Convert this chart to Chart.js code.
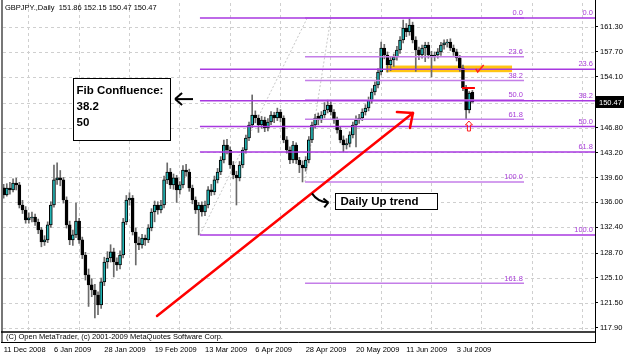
<!DOCTYPE html>
<html><head><meta charset="utf-8">
<script src="https://cdn.jsdelivr.net/npm/chart.js@4.4.0/dist/chart.umd.min.js"></script>
<style>html,body{margin:0;padding:0;background:#fff;}canvas{display:block;}</style>
</head><body>
<canvas id="c" width="625" height="355"></canvas>
<script>
const chartTitle = 'GBPJPY.,Daily  151.86 152.15 150.47 150.47';
const copyrightText = '(C) Open MetaTrader, (c) 2001-2009 MetaQuotes Software Corp.';

const opens = [138.10,137.07,138.08,137.80,138.80,138.52,135.63,134.91,133.47,133.76,133.90,133.18,132.03,130.30,130.59,132.75,135.63,139.24,139.53,139.24,
136.35,132.75,130.59,131.31,133.30,130.59,128.42,125.54,124.10,123.37,122.65,121.21,124.53,127.41,127.99,128.86,127.41,126.98,128.42,133.18,
136.35,136.64,131.74,130.15,129.86,130.87,130.59,132.32,134.62,135.63,134.91,135.63,139.24,140.39,138.52,139.53,137.80,138.52,140.68,140.39,
138.08,136.35,134.91,135.63,134.62,135.63,137.80,137.50,139.24,140.39,142.12,144.28,143.56,141.40,139.96,139.53,141.40,143.56,145.29,147.17,
148.61,148.18,147.17,147.89,146.74,147.60,148.61,148.18,149.04,148.18,145.01,143.56,142.12,144.28,142.12,141.40,140.97,142.12,145.01,147.17,
148.40,147.90,148.61,149.33,150.05,149.04,147.89,146.45,145.01,144.28,144.50,145.73,147.17,147.89,148.18,149.04,149.62,150.77,151.93,152.94,
154.81,158.27,157.26,155.82,156.54,156.97,157.98,159.43,161.16,160.58,161.59,159.43,157.98,157.26,158.27,158.70,157.26,156.97,157.26,157.70,
158.70,159.00,159.14,158.27,157.70,156.83,155.39,152.50,149.33,151.86];
const highs = [138.60,138.70,138.90,139.40,139.50,138.90,136.30,135.40,134.50,134.60,134.30,133.60,132.40,131.20,133.20,136.10,141.40,141.70,140.60,139.60,
136.80,133.30,132.00,135.90,133.70,131.00,128.80,126.40,125.00,124.20,123.10,125.10,128.10,128.90,129.90,129.40,128.00,129.00,133.70,137.00,
137.40,137.00,132.30,131.00,131.40,131.30,132.80,135.10,136.20,136.10,136.30,139.80,141.70,140.90,140.10,139.90,139.00,141.30,141.50,140.80,
138.50,136.80,136.00,136.10,136.20,138.30,138.60,139.80,140.90,142.60,145.00,145.10,144.00,141.90,140.50,141.90,143.90,145.70,147.60,151.50,
149.20,148.60,148.40,148.30,148.10,149.10,149.00,149.60,149.40,148.50,145.50,144.00,144.80,144.60,142.50,142.00,142.60,145.50,147.60,148.70,
148.90,149.10,150.40,150.77,150.50,149.40,148.30,146.90,145.60,145.20,146.20,147.60,148.50,148.70,149.50,150.10,151.20,152.40,153.40,155.30,
159.14,158.80,157.70,157.00,157.40,158.50,159.90,162.30,161.80,162.60,162.00,159.90,158.40,158.70,159.10,159.10,157.80,157.70,158.20,159.10,
159.45,159.50,159.60,158.70,158.10,157.20,155.80,152.90,152.00,152.15];
const lows = [136.60,136.90,137.20,137.50,137.80,135.20,134.40,133.00,133.00,133.20,132.70,131.50,129.60,129.80,130.20,132.40,135.30,138.60,138.40,135.90,
132.30,129.90,129.80,130.90,130.10,127.90,124.80,121.00,122.40,119.34,119.80,120.70,124.00,126.50,127.40,125.25,126.20,126.40,128.00,132.80,
135.60,131.30,126.98,129.20,129.40,129.80,130.20,131.90,133.20,134.30,134.50,135.20,138.70,138.00,137.90,136.00,137.20,138.10,139.80,137.60,
135.80,134.40,131.31,134.00,134.10,135.20,137.00,137.10,138.80,140.00,141.70,143.00,140.90,139.40,135.63,139.10,141.00,143.10,144.90,146.80,
147.50,146.10,146.70,146.20,146.30,147.20,147.50,147.80,147.60,144.60,143.10,141.60,141.70,141.60,140.30,138.95,140.50,141.70,144.60,146.70,
147.20,147.50,148.20,148.90,148.60,147.40,146.00,144.60,143.27,143.70,144.00,145.30,144.00,147.40,147.80,148.60,149.20,150.30,151.50,152.50,
154.40,156.70,154.80,155.00,155.60,156.50,157.50,159.00,159.90,160.10,159.00,154.90,156.60,156.80,156.30,156.80,154.10,156.40,156.80,157.20,
158.10,158.40,157.90,157.20,156.40,154.90,152.10,147.95,148.90,150.47];
const closes = [137.07,138.08,137.80,138.80,138.52,135.63,134.91,133.47,133.76,133.90,133.18,132.03,130.30,130.59,132.75,135.63,139.24,139.53,139.24,136.35,
132.75,130.59,131.31,133.30,130.59,128.42,125.54,124.10,123.37,122.65,121.21,124.53,127.41,127.99,128.86,127.41,126.98,128.42,133.18,136.35,
136.64,131.74,130.15,129.86,130.87,130.59,132.32,134.62,135.63,134.91,135.63,139.24,140.39,138.52,139.53,137.80,138.52,140.68,140.39,138.08,
136.35,134.91,135.63,134.62,135.63,137.80,137.50,139.24,140.39,142.12,144.28,143.56,141.40,139.96,139.53,141.40,143.56,145.29,147.17,148.61,
148.18,147.17,147.89,146.74,147.60,148.61,148.18,149.04,148.18,145.01,143.56,142.12,144.28,142.12,141.40,140.97,142.12,145.01,147.17,148.18,
147.90,148.61,149.33,150.05,149.04,147.89,146.45,145.01,144.28,144.50,145.73,147.17,147.89,148.18,149.04,149.62,150.77,151.93,152.94,154.81,
158.27,157.26,155.82,156.54,156.97,157.98,159.43,161.16,160.58,161.59,159.43,157.98,157.26,158.27,158.70,157.26,156.97,157.26,157.70,158.70,
159.00,159.14,158.27,157.70,156.83,155.39,152.50,149.33,151.78,150.47];

const xTickBars = [0,16,32,48,64,80,96,112,128,144];
const xTickLabels = ['11 Dec 2008','6 Jan 2009','28 Jan 2009','19 Feb 2009','13 Mar 2009','6 Apr 2009','28 Apr 2009','20 May 2009','11 Jun 2009','3 Jul 2009'];
const yTickValues = [117.9,121.5,125.1,128.7,132.4,136.0,139.6,143.2,146.8,150.4,154.1,157.7,161.3];
const lastPrice = 150.47;

// Fibonacci retracements: [high, low] prices, levels in percent
const fibLevelsA = [0,23.6,38.2,50,61.8,100];
const fibHighLowA = [162.60,131.31];
const fibLevelsB = [0,23.6,38.2,50,61.8,100,161.8];
const fibHighLowB = [162.60,138.95];

// ---------- layout / style constants ----------
const X_MIN = -0.2, X_MAX = 187.97, Y_MIN = 117.6, Y_MAX = 164.76;
const FIB_A_SPAN = [62.4, X_MAX];
const FIB_B_SPAN = [95.8, 165.4];
const FIB_A_TREND = [[62.4,131.31],[96.5,162.6]];
const FIB_B_TREND = [[95.8,138.95],[104.0,162.6]];
const GRID_SHIFT = 7.8;
const SMALL_FONT = '7.5px "Liberation Sans", Arial, sans-serif';
const BOLD_FONT = 'bold 11.5px "Liberation Sans", Arial, sans-serif';
const BULL = '#22b4b4', BEAR = '#000000';
const FIB_A_COLOR = '#a838e0', FIB_B_COLOR = '#c47ee8', FIB_LABEL_COLOR = '#a83cd8';

function fibPrices(levels, hl){ return levels.map(l => hl[0] - (hl[0]-hl[1]) * l / 100); }

const bodyData = closes.map((c,i) => ({x:i, y:[opens[i], c]}));
const wickData = lows.map((l,i) => ({x:i, y:[l, highs[i]]}));
const bodyColors = closes.map((c,i) => c >= opens[i] ? BULL : BEAR);

const datasets = [
  {type:'bar', data:wickData, barThickness:1, backgroundColor:'#6a6a6a', grouped:false, order:5},
  {type:'bar', data:bodyData, barThickness:3, backgroundColor:bodyColors, borderColor:'#000', borderWidth:1, borderSkipped:false, grouped:false, order:4}
];
function lineDs(pts, color, width, dash, order){
  return {type:'line', data:pts.map(p=>({x:p[0], y:p[1]})), borderColor:color, borderWidth:width, borderDash:dash||[], pointRadius:0, fill:false, tension:0, order:order};
}
datasets.push(lineDs(FIB_A_TREND, '#c8c8c8', 1, [2,2], 6));
datasets.push(lineDs(FIB_B_TREND, '#c8c8c8', 1, [2,2], 6));
fibPrices(fibLevelsA, fibHighLowA).forEach(p => datasets.push(lineDs([[FIB_A_SPAN[0],p],[FIB_A_SPAN[1],p]], FIB_A_COLOR, 1.5, null, 3)));
fibPrices(fibLevelsB, fibHighLowB).forEach(p => datasets.push(lineDs([[FIB_B_SPAN[0],p],[FIB_B_SPAN[1],p]], FIB_B_COLOR, 1.5, null, 3)));

// annotations in data units (bar index, price)
const ANN = {
  confBox: [22.0, 52.9, 153.94, 145.0],
  leftArrow: [60.2, 54.5, 150.9],
  trend: [[48.75,119.62],[130.1,148.9]],
  upBox: [105.3, 137.7, 137.36, 135.05],
  curvedArrow: [98.0, 103.2, 137.3, 136.0],
  band: [121.5, 161.6, 155.74, 154.78],
  check: [151.0, 155.4],
  redTick: [145.7, 149.8, 152.5],
  hollowArrow: [147.9, 147.74]
};

function line(ctx,x1,y1,x2,y2){ctx.beginPath();ctx.moveTo(x1,y1);ctx.lineTo(x2,y2);ctx.stroke();}

const drawPlugin = {
  id:'mt4',
  beforeDraw(chart){
    const ctx = chart.ctx;
    ctx.save(); ctx.fillStyle='#fff'; ctx.fillRect(0,0,chart.width,chart.height); ctx.restore();
  },
  beforeDatasetsDraw(chart){
    const ctx = chart.ctx, a = chart.chartArea, xs = chart.scales.x, ys = chart.scales.y;
    ctx.save();
    ctx.strokeStyle = '#cfcfcf'; ctx.lineWidth = 1; ctx.setLineDash([3,3]);
    yTickValues.forEach(v => { const py = Math.round(ys.getPixelForValue(v)) + 0.5; line(ctx, a.left, py, a.right, py); });
    for (let b = GRID_SHIFT; b < X_MAX; b += 16) { const px = Math.round(xs.getPixelForValue(b)) + 0.5; line(ctx, px, a.top, px, a.bottom); }
    ctx.setLineDash([]);
    // gold band
    const B = ANN.band;
    const bx1 = xs.getPixelForValue(B[0]), bx2 = xs.getPixelForValue(B[1]);
    const by1 = ys.getPixelForValue(B[2]), by2 = ys.getPixelForValue(B[3]);
    ctx.fillStyle = 'rgba(255,192,0,0.92)';
    ctx.fillRect(bx1, by1, bx2-bx1, by2-by1);
    ctx.restore();
  },
  afterDatasetsDraw(chart){
    const ctx = chart.ctx, a = chart.chartArea, xs = chart.scales.x, ys = chart.scales.y;
    const X = v => xs.getPixelForValue(v), Y = v => ys.getPixelForValue(v);
    ctx.save();
    // fib labels
    ctx.font = SMALL_FONT; ctx.fillStyle = FIB_LABEL_COLOR; ctx.textAlign = 'right'; ctx.textBaseline = 'bottom';
    fibPrices(fibLevelsA, fibHighLowA).forEach((p,k) => ctx.fillText(fibLevelsA[k].toFixed(1), X(FIB_A_SPAN[1]) - 2, Y(p) - 1));
    fibPrices(fibLevelsB, fibHighLowB).forEach((p,k) => ctx.fillText(fibLevelsB[k].toFixed(1), X(FIB_B_SPAN[1]) - 1, Y(p) - 1));

    // red trend line with arrow head
    const T = ANN.trend;
    const tx1 = X(T[0][0]), ty1 = Y(T[0][1]), tx2 = X(T[1][0]), ty2 = Y(T[1][1]);
    ctx.strokeStyle = '#ff0000'; ctx.lineWidth = 2.5; ctx.lineCap = 'round';
    line(ctx, tx1, ty1, tx2, ty2);
    line(ctx, tx2 - 16, ty2 - 1, tx2, ty2);
    line(ctx, tx2, ty2, tx2 - 3, ty2 + 15);

    // confluence box
    const C = ANN.confBox;
    const cx1 = Math.round(X(C[0])) + 0.5, cx2 = Math.round(X(C[1])) + 0.5, cy1 = Math.round(Y(C[2])) + 0.5, cy2 = Math.round(Y(C[3])) + 0.5;
    ctx.fillStyle = '#fff'; ctx.fillRect(cx1, cy1, cx2-cx1, cy2-cy1);
    ctx.strokeStyle = '#000'; ctx.lineWidth = 1; ctx.strokeRect(cx1, cy1, cx2-cx1, cy2-cy1);
    ctx.fillStyle = '#000'; ctx.font = BOLD_FONT; ctx.textAlign = 'left'; ctx.textBaseline = 'middle';
    ctx.fillText('Fib Confluence:', cx1 + 3, cy1 + 12);
    ctx.fillText('38.2', cx1 + 3, cy1 + 28);
    ctx.fillText('50', cx1 + 3, cy1 + 44);

    // left arrow
    const L = ANN.leftArrow;
    const lx1 = X(L[0]), lx2 = X(L[1]), ly = Y(L[2]);
    ctx.strokeStyle = '#000'; ctx.lineWidth = 2; ctx.lineCap = 'butt';
    line(ctx, lx1, ly, lx2, ly);
    line(ctx, lx2, ly, lx2 + 7, ly - 6);
    line(ctx, lx2, ly, lx2 + 7, ly + 6);

    // daily up trend box
    const U = ANN.upBox;
    const ux1 = Math.round(X(U[0])) + 0.5, ux2 = Math.round(X(U[1])) + 0.5, uy1 = Math.round(Y(U[2])) + 0.5, uy2 = Math.round(Y(U[3])) + 0.5;
    ctx.fillStyle = '#fff'; ctx.fillRect(ux1, uy1, ux2-ux1, uy2-uy1);
    ctx.strokeStyle = '#000'; ctx.lineWidth = 1; ctx.strokeRect(ux1, uy1, ux2-ux1, uy2-uy1);
    ctx.fillStyle = '#000'; ctx.font = BOLD_FONT; ctx.textBaseline = 'middle';
    ctx.fillText('Daily Up trend', ux1 + 5, (uy1 + uy2) / 2 + 0.5);

    // curved arrow
    const CA = ANN.curvedArrow;
    const ax1 = X(CA[0]), ax2 = X(CA[1]), ay1 = Y(CA[2]), ay2 = Y(CA[3]);
    ctx.lineWidth = 2;
    ctx.beginPath(); ctx.moveTo(ax1, ay1); ctx.quadraticCurveTo(ax1 + 6, ay2, ax2, ay2); ctx.stroke();
    line(ctx, ax2, ay2, ax2 - 5, ay2 - 4);
    line(ctx, ax2, ay2, ax2 - 4, ay2 + 5);

    // red check mark
    const K = ANN.check;
    const kx = X(K[0]), ky = Y(K[1]);
    ctx.strokeStyle = '#ff2020'; ctx.lineWidth = 1.5;
    ctx.beginPath(); ctx.moveTo(kx - 3, ky + 1); ctx.lineTo(kx - 1, ky + 4); ctx.lineTo(kx + 5, ky - 3); ctx.stroke();

    // red short horizontal
    const R = ANN.redTick;
    ctx.strokeStyle = '#ff0000'; ctx.lineWidth = 2;
    line(ctx, X(R[0]), Y(R[2]), X(R[1]), Y(R[2]));

    // hollow up arrow
    const H = ANN.hollowArrow;
    const hx = X(H[0]), hy = Y(H[1]);
    ctx.lineWidth = 1; ctx.strokeStyle = '#ff2020';
    ctx.beginPath();
    ctx.moveTo(hx, hy); ctx.lineTo(hx + 3.5, hy + 4); ctx.lineTo(hx + 1.5, hy + 4); ctx.lineTo(hx + 1.5, hy + 10);
    ctx.lineTo(hx - 1.5, hy + 10); ctx.lineTo(hx - 1.5, hy + 4); ctx.lineTo(hx - 3.5, hy + 4); ctx.closePath(); ctx.stroke();
    ctx.restore();
  },
  afterDraw(chart){
    const ctx = chart.ctx, a = chart.chartArea, ys = chart.scales.y;
    ctx.save();
    // frame
    ctx.strokeStyle = '#000'; ctx.lineWidth = 1;
    line(ctx, a.right + 0.5, 0, a.right + 0.5, 343);
    ctx.strokeStyle = '#777'; ctx.lineWidth = 2;
    line(ctx, a.left - 1, 0, a.left - 1, 343);
    // sub window
    ctx.strokeStyle = '#000'; ctx.lineWidth = 1.5;
    line(ctx, a.left - 2, a.bottom + 2, a.right + 1, a.bottom + 2);
    ctx.lineWidth = 1;
    line(ctx, a.left - 2, 342.5, a.right + 1, 342.5);
    ctx.fillStyle = '#000'; ctx.font = SMALL_FONT; ctx.textAlign = 'left'; ctx.textBaseline = 'middle';
    ctx.fillText(copyrightText, a.left + 3, a.bottom + 6.5);
    // title
    ctx.font = SMALL_FONT; ctx.textBaseline = 'middle';
    ctx.fillText(chartTitle, 5, 8);
    // price tag
    const py = ys.getPixelForValue(lastPrice);
    ctx.fillStyle = '#000'; ctx.fillRect(a.right + 1, Math.round(py) - 6, 28, 12);
    ctx.fillStyle = '#fff'; ctx.textAlign = 'left'; ctx.textBaseline = 'middle';
    ctx.fillText(lastPrice.toFixed(2), a.right + 4, Math.round(py) + 0.5);
    ctx.restore();
  }
};

new Chart(document.getElementById('c'), {
  type:'bar',
  data:{datasets},
  options:{
    responsive:false, animation:false, events:[],
    layout:{padding:{left:3, top:3, right:0, bottom:0}},
    plugins:{legend:{display:false}, tooltip:{enabled:false}},
    scales:{
      x:{type:'linear', min:X_MIN, max:X_MAX, offset:false,
         grid:{display:false, offset:false}, border:{display:false},
         afterBuildTicks: s => { s.ticks = xTickBars.map(v => ({value:v})); },
         afterFit: s => { s.height = 25; s.paddingLeft = 0; s.paddingRight = 0; },
         ticks:{autoSkip:false, maxRotation:0, minRotation:0, align:'start', padding:7, color:'#000',
                font:{family:'"Liberation Sans", Arial, sans-serif', size:7.5},
                callback: v => { const k = xTickBars.indexOf(v); return k >= 0 ? xTickLabels[k] : ''; }}},
      y:{type:'linear', position:'right', min:Y_MIN, max:Y_MAX,
         grid:{drawOnChartArea:false, drawTicks:true, tickLength:3, color:'#000'}, border:{display:false},
         afterBuildTicks: s => { s.ticks = yTickValues.map(v => ({value:v})); },
         afterFit: s => { s.width = 30; s.paddingTop = 0; s.paddingBottom = 0; },
         ticks:{autoSkip:false, padding:2, color:'#000', font:{family:'"Liberation Sans", Arial, sans-serif', size:7.5},
                callback: v => v.toFixed(2)}}
    }
  },
  plugins:[drawPlugin]
});
</script>
</body></html>
